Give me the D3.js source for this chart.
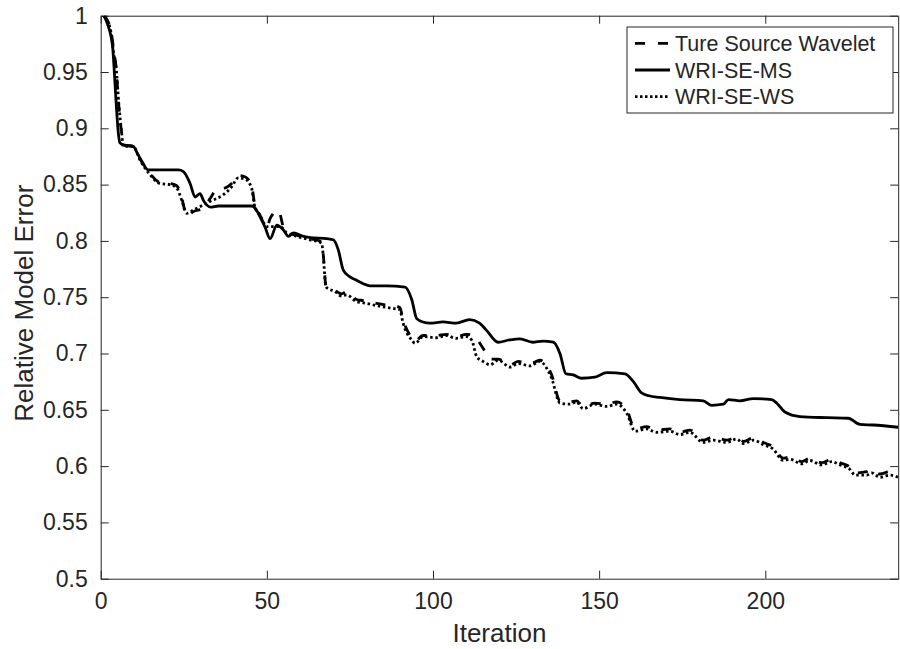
<!DOCTYPE html>
<html>
<head>
<meta charset="utf-8">
<script src="https://cdn.jsdelivr.net/npm/d3@7"></script>
<style>
  body { margin: 0; background: #fff; }
  text { font-family: "Liberation Sans", Arial, Helvetica, sans-serif; fill: #262626; }
  .line { fill: none; stroke: #000; stroke-width: 2.8; }
</style>
</head>
<body>
<script>
// series names (legend order)
var seriesNames = ["Ture Source Wavelet", "WRI-SE-MS", "WRI-SE-WS"];

// [iteration, relative model error]
var tureSource = [
[1,1.0],[2,0.996],[3,0.988],[4,0.968],[4.6,0.955],[5.5,0.918],[6.3,0.896],[7,0.885],[9.8,0.884],
[11.8,0.873],[14.8,0.860],[17.8,0.852],[20.9,0.851],[22.9,0.849],[24.4,0.838],[25.9,0.822],[27.9,0.826],
[30.9,0.829],[33,0.838],[35,0.846],[37.4,0.847],[39.4,0.851],[41.4,0.858],[43.4,0.857],[45.4,0.849],
[46.4,0.832],[47.9,0.823],[50,0.812],[51,0.820],[53.5,0.827],[55,0.812],[56,0.808],[59,0.805],[63,0.802],
[66.5,0.799],[67,0.787],[67.8,0.760],[70.5,0.756],[72.5,0.753],[74,0.755],[77,0.748],[79,0.747],[84,0.744],
[88,0.742],[90,0.741],[91,0.730],[93.6,0.714],[94.6,0.711],[97,0.716],[101,0.716],[104,0.717],[107,0.715],
[110,0.717],[112,0.716],[115,0.705],[117.2,0.695],[119.6,0.695],[123.2,0.690],[125.7,0.693],[129.2,0.691],
[132.2,0.694],[134.2,0.690],[135.7,0.681],[138.2,0.658],[141.2,0.657],[143.2,0.658],[145.2,0.653],
[148.7,0.656],[152.2,0.655],[155.3,0.657],[158.3,0.650],[160.8,0.633],[164.3,0.635],[167.3,0.632],
[171.3,0.633],[174.3,0.630],[177.3,0.632],[181.3,0.623],[184.4,0.626],[188.4,0.623],[191.4,0.626],
[193.4,0.622],[196.4,0.625],[199.4,0.621],[202.4,0.617],[205.4,0.607],[207.4,0.608],[211,0.604],
[213.4,0.607],[217,0.603],[220,0.606],[222.5,0.603],[225.5,0.599],[227,0.594],[230.5,0.595],[232,0.597],
[234.5,0.593],[237.5,0.595],[240,0.594]
];

var wriMS = [
[1,1.0],[2,0.993],[3,0.983],[3.6,0.972],[4,0.955],[4.6,0.925],[5.3,0.896],[5.8,0.887],[7,0.885],
[9.8,0.884],[11,0.878],[12.5,0.870],[14.3,0.863],[20,0.863],[23.4,0.863],[24.9,0.8615],[26.9,0.851],
[28.4,0.839],[29.9,0.842],[30.9,0.836],[31.9,0.832],[33,0.830],[35.4,0.831],[45.4,0.831],[46.5,0.829],
[47.4,0.8245],[49.4,0.8126],[51,0.802],[53,0.814],[55,0.8097],[56.5,0.804],[58,0.807],[61,0.804],
[63,0.803],[68,0.802],[70,0.801],[71.5,0.792],[73,0.774],[75,0.768],[77,0.765],[79,0.762],[81,0.760],
[86,0.760],[91.6,0.759],[93.6,0.748],[95.1,0.731],[97,0.728],[99.1,0.727],[103,0.728],[107,0.727],
[111,0.730],[114,0.727],[116,0.721],[119.6,0.710],[123,0.712],[126.2,0.713],[130,0.710],[133,0.711],
[136.2,0.710],[138.2,0.700],[140,0.682],[142.2,0.681],[144.7,0.678],[148.7,0.679],[152.3,0.683],
[157.8,0.682],[160.3,0.675],[162.8,0.665],[165,0.6625],[168.3,0.661],[174.3,0.659],[181.3,0.658],
[183.9,0.654],[187.4,0.655],[188.9,0.659],[192.4,0.658],[196.4,0.660],[201.9,0.659],[203.4,0.656],
[205.9,0.648],[210.4,0.644],[218.5,0.643],[225,0.6425],[228.5,0.637],[232.5,0.6365],[240,0.6345]
];

var wriWS = [
[1,1.0],[2,0.995],[3,0.987],[4,0.965],[4.6,0.955],[5.5,0.92],[6.3,0.896],[6.8,0.884],[9.8,0.884],
[11.8,0.872],[14.8,0.859],[17.8,0.851],[20.9,0.850],[22.9,0.847],[24.4,0.836],[25.9,0.8245],[27.9,0.8275],
[30.9,0.832],[32.9,0.835],[36.9,0.841],[39.4,0.848],[41.4,0.856],[43.4,0.855],[45.4,0.847],[46.4,0.830],
[47.9,0.823],[50,0.8126],[54,0.8126],[56,0.807],[59,0.804],[63,0.801],[66.5,0.798],[67,0.786],[67.8,0.759],
[70.5,0.755],[72.5,0.751],[74,0.752],[77,0.746],[79,0.745],[84,0.742],[88,0.740],[90,0.739],[91,0.727],
[93.6,0.712],[94.6,0.709],[97,0.715],[101,0.714],[104,0.716],[107,0.7135],[110,0.715],[111.6,0.712],
[113.2,0.697],[115,0.693],[117.2,0.690],[119.6,0.694],[123.2,0.688],[125.7,0.691],[129.2,0.689],
[132.2,0.693],[134.2,0.687],[135.7,0.678],[138.2,0.656],[141.2,0.655],[143.2,0.657],[145.2,0.651],
[148.7,0.655],[152.2,0.653],[155.3,0.655],[158.3,0.647],[160.8,0.631],[164.3,0.633],[167.3,0.630],
[171.3,0.631],[174.3,0.628],[177.3,0.630],[181.3,0.621],[184.4,0.623],[188.4,0.621],[191.4,0.624],
[193.4,0.620],[196.4,0.623],[199.4,0.619],[202.4,0.615],[205.4,0.605],[207.4,0.606],[211,0.602],
[213.4,0.605],[217,0.601],[220,0.604],[222.5,0.601],[225.5,0.597],[227,0.592],[230.5,0.592],[232,0.594],
[234.5,0.590],[237.5,0.592],[240,0.590]
];

var xTicks = [0, 50, 100, 150, 200];
var yTicks = [0.5, 0.55, 0.6, 0.65, 0.7, 0.75, 0.8, 0.85, 0.9, 0.95, 1];

var margin = {top: 15.7, bottom: 70.3, right: 1.8, left: 100.7},
    width = 900 - margin.left - margin.right,
    height = 649 - margin.top - margin.bottom;

var svg = d3.select("body").append("svg")
    .attr("width", 900)
    .attr("height", 649)
    .append("g")
    .attr("transform", "translate(" + margin.left + "," + margin.top + ")");

var absc = d3.scaleLinear().domain([0, 240]).range([0, width]);
var ordo = d3.scaleLinear().domain([0.5, 1]).range([height, 0]);

svg.append("clipPath").attr("id", "clip")
  .append("rect").attr("width", width).attr("height", height);

var line = d3.line()
    .x(function(d) { return absc(d[0]); })
    .y(function(d) { return ordo(d[1]); })
    .curve(d3.curveMonotoneX);

// axes (ticks inside, box on)
function styleAxis(g) {
  g.select(".domain").attr("stroke", "#262626");
  g.selectAll(".tick line").attr("stroke", "#262626");
  g.selectAll(".tick text").style("font-size", "23px").attr("fill", "#262626");
}

svg.append("g")
    .attr("transform", "translate(0," + height + ")")
    .call(d3.axisBottom(absc).tickValues(xTicks).tickSize(-8).tickSizeOuter(0).tickPadding(14))
    .call(styleAxis);

svg.append("g")
    .call(d3.axisLeft(ordo).tickValues(yTicks).tickSize(-8).tickSizeOuter(0).tickPadding(13)
      .tickFormat(function(d) { return d3.format("")(+d.toFixed(2)); }))
    .call(styleAxis);

svg.append("g")
    .call(d3.axisTop(absc).tickValues(xTicks).tickSize(-8).tickSizeOuter(0).tickFormat(""))
    .call(styleAxis);

svg.append("g")
    .attr("transform", "translate(" + width + ",0)")
    .call(d3.axisRight(ordo).tickValues(yTicks).tickSize(-8).tickSizeOuter(0).tickFormat(""))
    .call(styleAxis);

var plot = svg.append("g").attr("clip-path", "url(#clip)");

plot.append("path")
    .attr("class", "line")
    .attr("stroke-dasharray", "10,12")
    .attr("d", line(tureSource));

plot.append("path")
    .attr("class", "line")
    .attr("d", line(wriMS));

plot.append("path")
    .attr("class", "line")
    .attr("stroke-dasharray", "2.5,2.7")
    .attr("d", line(wriWS));

// axis titles
svg.append("text")
    .attr("x", width / 2)
    .attr("y", height + 63)
    .attr("text-anchor", "middle")
    .style("font-size", "26px")
    .text("Iteration");

svg.append("text")
    .attr("transform", "translate(" + (33 - margin.left) + "," + (height / 2 + 6) + ") rotate(-90)")
    .attr("text-anchor", "middle")
    .style("font-size", "26px")
    .text("Relative Model Error");

// legend
var legend = svg.append("g")
    .attr("transform", "translate(" + (627 - margin.left) + "," + (27 - margin.top) + ")");

legend.append("rect")
    .attr("width", 266)
    .attr("height", 86)
    .attr("fill", "#fff")
    .attr("stroke", "#262626")
    .attr("stroke-width", 1);

var dashes = ["10,13", null, "2.5,2.5"];
seriesNames.forEach(function(name, i) {
  var yy = 16.3 + i * 26.7;
  legend.append("line")
      .attr("class", "line")
      .attr("x1", 8).attr("x2", 43)
      .attr("y1", yy).attr("y2", yy)
      .attr("stroke-dasharray", dashes[i]);
  legend.append("text")
      .attr("x", 48)
      .attr("y", yy + 7.5)
      .style("font-size", "21.5px")
      .text(name);
});
</script>
</body>
</html>
